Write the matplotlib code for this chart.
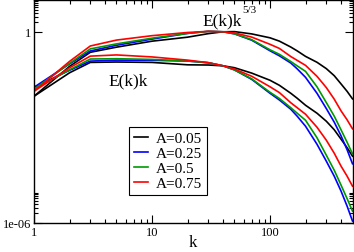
import matplotlib
matplotlib.use('Agg')
import matplotlib.pyplot as plt
from matplotlib.ticker import FixedLocator, LogLocator, NullFormatter

# wavenumbers
k = [1, 2, 3, 5, 10, 20, 30, 40, 50, 70, 100, 120, 150, 170, 200, 250, 300, 350, 400, 450, 500]

# E(k)k, one list per A
ek_a005 = [0.00951, 0.0519, 0.1099, 0.1131, 0.1099, 0.0924, 0.0910, 0.0859, 0.0749, 0.0507,
           0.0302, 0.02103, 0.0118, 0.00823, 0.00496, 0.002797, 0.001565, 0.000847, 0.000427,
           0.000231, 0.000125]
ek_a025 = [0.0182, 0.0621, 0.1207, 0.1297, 0.1278, 0.1215, 0.1075, 0.0859, 0.0639, 0.0322,
           0.0118, 0.00728, 0.00372, 0.002245, 0.001091, 0.000297, 8.72e-5, 2.953e-5, 1.0e-5,
           3.386e-6, 1.15e-6]
ek_a05 = [0.01576, 0.0644, 0.1404, 0.1435, 0.1364, 0.1215, 0.1075, 0.0859, 0.0639, 0.0334,
          0.01269, 0.00811, 0.00415, 0.002787, 0.00168, 0.000475, 0.000134, 4.55e-5, 1.54e-5,
          5.82e-6, 2.36e-6]
ek_a075 = [0.01364, 0.0744, 0.1730, 0.1887, 0.1633, 0.1297, 0.1075, 0.0859, 0.0682, 0.0403,
           0.01887, 0.01242, 0.00595, 0.00415, 0.002594, 0.001015, 0.000397, 0.0001553, 6.08e-5,
           2.953e-5, 1.43e-5]

# E(k)k^(5/3)
ek53_a005 = [0.00951, 0.0823, 0.2285, 0.3307, 0.5099, 0.6807, 0.8790, 1.005, 1.017, 0.8618,
             0.6502, 0.5117, 0.3334, 0.2525, 0.1698, 0.111, 0.0701, 0.0421, 0.02316,
             0.01357, 0.00788]
ek53_a025 = [0.0182, 0.0986, 0.2510, 0.3793, 0.5933, 0.8952, 1.0378, 1.005, 0.8676, 0.5470,
             0.2543, 0.1771, 0.1050, 0.0689, 0.0373, 0.0118, 0.00391, 0.001466, 0.000543,
             0.000199, 7.22e-5]
ek53_a05 = [0.01576, 0.1022, 0.2920, 0.4196, 0.6330, 0.8952, 1.0378, 1.005, 0.8676, 0.5671,
            0.2733, 0.1973, 0.1170, 0.0855, 0.0575, 0.01886, 0.00603, 0.00226, 0.000837,
            0.000342, 0.0001487]
ek53_a075 = [0.01364, 0.1181, 0.3600, 0.5519, 0.7586, 0.9554, 1.0378, 1.005, 0.9260, 0.6841,
             0.4066, 0.3020, 0.1679, 0.1272, 0.0887, 0.0403, 0.01779, 0.00772, 0.00330,
             0.001734, 0.000904]

labels = ['A=0.05', 'A=0.25', 'A=0.5', 'A=0.75']
colors = ['black', '#0000ff', '#009a00', '#ff0000']

plt.rcParams['font.family'] = ['Liberation Serif', 'DejaVu Serif']

fig = plt.figure(figsize=(3.54, 2.53), dpi=100)
ax = fig.add_axes([34 / 354, 1 - 224 / 253, 318.5 / 354, 223 / 253])

lower = [ek_a005, ek_a025, ek_a05, ek_a075]
upper = [ek53_a005, ek53_a025, ek53_a05, ek53_a075]
for lo, up, c, lab in zip(lower, upper, colors, labels):
    ax.plot(k, up, color=c, lw=1.2, label=lab)
    ax.plot(k, lo, color=c, lw=1.2)

ax.set_xscale('log')
ax.set_yscale('log')
ax.set_xlim(1, 500)
ax.set_ylim(1e-6, 10)

# ticks like the original: majors 1e-06 and 1 only
ax.yaxis.set_major_locator(FixedLocator([1e-6, 1]))
ax.yaxis.set_minor_locator(FixedLocator([m * 1e-6 for m in range(2, 10)] + list(range(2, 10))))
ax.set_yticklabels(['1e-06', '1'])
ax.yaxis.set_minor_formatter(NullFormatter())
ax.xaxis.set_major_locator(FixedLocator([1, 10, 100]))
ax.xaxis.set_minor_locator(LogLocator(base=10, subs=range(2, 10)))
ax.xaxis.set_minor_formatter(NullFormatter())
ax.set_xticklabels(['1', '10', '100'])

ax.tick_params(which='both', direction='in', top=True, right=True, labelsize=9, width=0.8)
ax.tick_params(which='major', length=6, pad=2)
ax.tick_params(which='minor', length=3)
for s in ax.spines.values():
    s.set_linewidth(1.0)

ax.set_xlabel('k', fontsize=12, labelpad=-3)

ax.text(26.5, 1.72, 'E(k)k', fontsize=12.5, ha='left', va='baseline')
ax.text(57.9, 4.09, '5/3', fontsize=8, ha='left', va='baseline')
ax.text(4.24, 0.0226, 'E(k)k', fontsize=12.5, ha='left', va='baseline')

leg = ax.legend(loc='upper left', bbox_to_anchor=(129 / 354, 1 - 128 / 253),
                bbox_transform=fig.transFigure, fontsize=11, frameon=True,
                fancybox=False, framealpha=1, edgecolor='black',
                handlelength=0.95, handletextpad=0.5, borderpad=0.3,
                labelspacing=0.08, borderaxespad=0)
leg.get_frame().set_linewidth(0.8)

fig.savefig('out.png', dpi=100)
